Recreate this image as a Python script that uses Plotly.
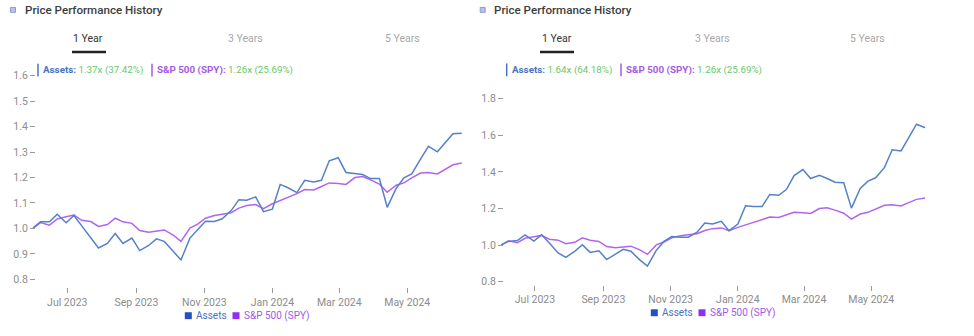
import plotly.graph_objects as go

# ---- data -------------------------------------------------------------
dates = [
    "2023-05-31", "2023-06-07", "2023-06-15", "2023-06-22", "2023-06-30",
    "2023-07-07", "2023-07-14", "2023-07-22", "2023-07-29", "2023-08-06",
    "2023-08-13", "2023-08-20", "2023-08-28", "2023-09-04", "2023-09-12",
    "2023-09-19", "2023-09-26", "2023-10-04", "2023-10-11", "2023-10-19",
    "2023-10-26", "2023-11-02", "2023-11-10", "2023-11-17", "2023-11-25",
    "2023-12-02", "2023-12-09", "2023-12-17", "2023-12-24", "2024-01-01",
    "2024-01-08", "2024-01-15", "2024-01-23", "2024-01-30", "2024-02-07",
    "2024-02-14", "2024-02-21", "2024-02-29", "2024-03-07", "2024-03-15",
    "2024-03-22", "2024-03-29", "2024-04-06", "2024-04-13", "2024-04-21",
    "2024-04-28", "2024-05-05", "2024-05-13", "2024-05-20", "2024-05-28",
    "2024-06-04", "2024-06-11", "2024-06-19",
]

assets_left = [
    1.000, 1.026, 1.026, 1.056, 1.022, 1.051, 1.010, 0.965, 0.923, 0.941,
    0.980, 0.941, 0.962, 0.913, 0.933, 0.959, 0.949, 0.910, 0.876, 0.962,
    0.995, 1.028, 1.027, 1.038, 1.070, 1.113, 1.111, 1.124, 1.066, 1.076,
    1.173, 1.160, 1.141, 1.189, 1.183, 1.189, 1.266, 1.278, 1.220, 1.215,
    1.212, 1.196, 1.196, 1.083, 1.157, 1.199, 1.214, 1.273, 1.323, 1.301,
    1.336, 1.372, 1.3742,
]

assets_right = [
    1.000, 1.020, 1.025, 1.056, 1.022, 1.056, 1.011, 0.957, 0.933, 0.966,
    1.002, 0.960, 0.969, 0.921, 0.950, 0.977, 0.966, 0.919, 0.885, 0.971,
    1.020, 1.047, 1.043, 1.043, 1.070, 1.121, 1.115, 1.130, 1.079, 1.115,
    1.215, 1.211, 1.211, 1.277, 1.272, 1.304, 1.380, 1.413, 1.364, 1.382,
    1.364, 1.344, 1.341, 1.202, 1.310, 1.350, 1.368, 1.425, 1.521, 1.515,
    1.588, 1.661, 1.6418,
]

spy = [
    1.000, 1.023, 1.013, 1.037, 1.046, 1.053, 1.032, 1.027, 1.008, 1.015,
    1.040, 1.026, 1.020, 0.992, 0.985, 0.990, 0.994, 0.974, 0.949, 1.001,
    1.017, 1.040, 1.051, 1.056, 1.062, 1.080, 1.090, 1.094, 1.078, 1.097,
    1.110, 1.122, 1.137, 1.153, 1.151, 1.165, 1.179, 1.177, 1.173, 1.200,
    1.204, 1.191, 1.174, 1.142, 1.170, 1.179, 1.199, 1.218, 1.220, 1.214,
    1.232, 1.250, 1.2569,
]

x_tick_vals = ["2023-07-01", "2023-09-01", "2023-11-01",
               "2024-01-01", "2024-03-01", "2024-05-01"]
x_tick_labels = ["Jul 2023", "Sep 2023", "Nov 2023",
                 "Jan 2024", "Mar 2024", "May 2024"]
y_ticks_left = [0.8, 0.9, 1.0, 1.1, 1.2, 1.3, 1.4, 1.5, 1.6]
y_ticks_right = [0.8, 1.0, 1.2, 1.4, 1.6, 1.8]
tab_labels = ["1 Year", "3 Years", "5 Years"]
title_text = "Price Performance History"
asset_name = "Assets"
spy_name = "S&P 500 (SPY)"

# ---- styling ----------------------------------------------------------
W, H = 974, 336
FONT = "Roboto"
ASSET_LINE = "#5581c9"
SPY_LINE = "#b265ec"
ASSET_TEXT = "#4a72c0"
SPY_TEXT = "#a35ae6"
GREEN = "#6cc76c"
TICK_GREY = "#8c8c8c"


def px(x):
    return x / W


def py(y):
    return 1 - y / H


def fmt_ratio(v):
    return f"{v:.2f}x ({(v - 1) * 100:.2f}%)"


panels = [
    dict(assets=assets_left, xdom=(32.7, 461.9), ydom=(290.4, 66.4),
         yrange=(0.77, 1.64), yticks=y_ticks_left, yfmt=".1f", ypos=35,
         icon=13, title=23, tabs=(88.3, 245.3, 402.7), under=(72, 106, 52.5),
         leg_y=71, leg=(38, 152), bot_y=319.5, bot=(188.3, 236)),
    dict(assets=assets_right, xdom=(500.8, 925.3), ydom=(288.0, 92.6),
         yrange=(0.784, 1.84), yticks=y_ticks_right, yfmt=".1f", ypos=503,
         icon=482.7, title=492, tabs=(556.7, 712, 867.2), under=(540, 574, 52.5),
         leg_y=70.7, leg=(506.7, 621), bot_y=316.5, bot=(654.3, 702)),
]

fig = go.Figure()
annotations = []
shapes = []
layout_axes = {}

for i, p in enumerate(panels):
    sfx = "" if i == 0 else str(i + 1)
    xa, ya = "x" + sfx, "y" + sfx

    fig.add_trace(go.Scatter(x=dates, y=spy, mode="lines", name=spy_name,
                             line=dict(color=SPY_LINE, width=1.5),
                             xaxis=xa, yaxis=ya, showlegend=False))
    fig.add_trace(go.Scatter(x=dates, y=p["assets"], mode="lines", name=asset_name,
                             line=dict(color=ASSET_LINE, width=1.5),
                             xaxis=xa, yaxis=ya, showlegend=False))

    layout_axes["xaxis" + sfx] = dict(
        domain=[px(p["xdom"][0]), px(p["xdom"][1])],
        range=[dates[0], dates[-1]], type="date", anchor=ya,
        tickvals=x_tick_vals, ticktext=x_tick_labels,
        ticks="outside", ticklen=5, tickwidth=1, tickcolor="#9a9a9a",
        showgrid=False, zeroline=False, showline=False,
        tickfont=dict(family=FONT, size=10.5, color=TICK_GREY),
    )
    layout_axes["yaxis" + sfx] = dict(
        domain=[py(p["ydom"][0]), py(p["ydom"][1])],
        range=list(p["yrange"]), anchor="free", position=px(p["ypos"]),
        tickvals=p["yticks"], tickformat=p["yfmt"],
        ticks="outside", ticklen=5, tickwidth=1, tickcolor="#9a9a9a",
        showgrid=False, zeroline=False, showline=False,
        tickfont=dict(family=FONT, size=10.5, color=TICK_GREY),
    )

    # header icon and title
    shapes.append(dict(type="rect", xref="paper", yref="paper",
                       x0=px(p["icon"] - 2.5), x1=px(p["icon"] + 2.5),
                       y0=py(12.5), y1=py(7.5),
                       line=dict(color="#8f9bd0", width=1), fillcolor="#b9c1e4"))
    annotations.append(dict(text=title_text, x=px(p["title"]), y=py(10.5),
                            xref="paper", yref="paper", xanchor="left",
                            yanchor="middle", showarrow=False,
                            font=dict(family=FONT, size=11.6, color="#3d3d3d",
                                      weight=500)))

    # period tabs
    for j, (lab, cx) in enumerate(zip(tab_labels, p["tabs"])):
        annotations.append(dict(text=lab, x=px(cx), y=py(39), xref="paper",
                                yref="paper", xanchor="center", yanchor="middle",
                                showarrow=False,
                                font=dict(family=FONT, size=10.5,
                                          color="#333333" if j == 0 else "#a8a8a8")))
    u0, u1, uy = p["under"]
    shapes.append(dict(type="line", xref="paper", yref="paper",
                       x0=px(u0), x1=px(u1), y0=py(uy), y1=py(uy),
                       line=dict(color="#222222", width=2.5)))

    # summary row above the plot
    a_last = p["assets"][-1]
    s_last = spy[-1]
    for bx, col, name, val in ((p["leg"][0], ASSET_TEXT, asset_name, a_last),
                               (p["leg"][1], SPY_TEXT, spy_name, s_last)):
        shapes.append(dict(type="line", xref="paper", yref="paper",
                           x0=px(bx), x1=px(bx), y0=py(p["leg_y"] - 6.5),
                           y1=py(p["leg_y"] + 6.5),
                           line=dict(color=col, width=1.5)))
        annotations.append(dict(
            text=(f"<span style='color:{col}'><b>{name}:</b></span> "
                  f"<span style='color:{GREEN}'>{fmt_ratio(val)}</span>"),
            x=px(bx + 3), y=py(p["leg_y"]), xref="paper", yref="paper",
            xanchor="left", yanchor="middle", showarrow=False,
            font=dict(family=FONT, size=9.8)))

    # legend below the plot
    for sx, sq_col, txt_col, name in ((p["bot"][0], "#2450c0", ASSET_TEXT, asset_name),
                                      (p["bot"][1], "#8f2ff0", SPY_TEXT, spy_name)):
        shapes.append(dict(type="rect", xref="paper", yref="paper",
                           x0=px(sx - 3.5), x1=px(sx + 3.5),
                           y0=py(p["bot_y"] + 3.5), y1=py(p["bot_y"] - 3.5),
                           line=dict(width=0), fillcolor=sq_col))
        annotations.append(dict(text=name, x=px(sx + 6), y=py(p["bot_y"]),
                                xref="paper", yref="paper", xanchor="left",
                                yanchor="middle", showarrow=False,
                                font=dict(family=FONT, size=10, color=txt_col)))

fig.update_layout(
    width=W, height=H,
    margin=dict(l=0, r=0, t=0, b=0),
    paper_bgcolor="white", plot_bgcolor="white",
    annotations=annotations, shapes=shapes,
    hovermode="x unified",
    **layout_axes,
)

fig.write_html("out.html")
